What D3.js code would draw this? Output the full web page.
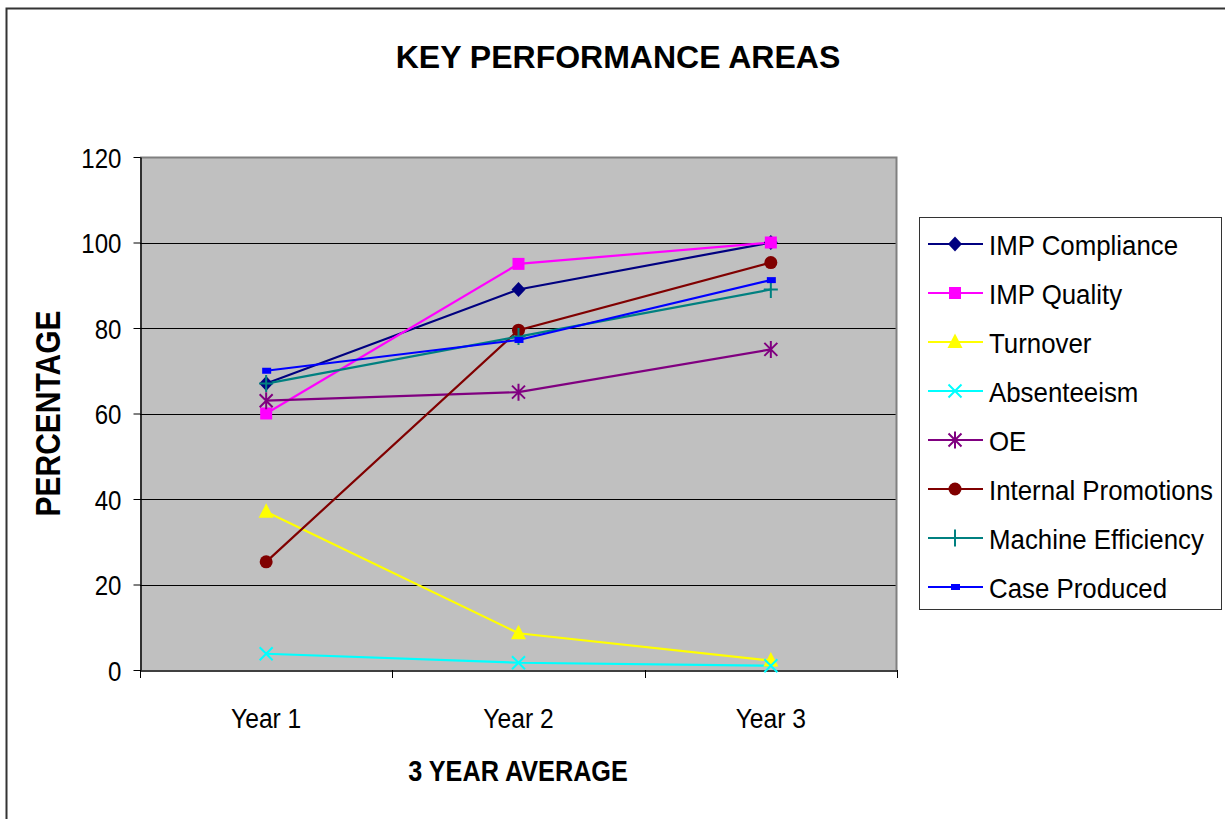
<!DOCTYPE html>
<html>
<head>
<meta charset="utf-8">
<script src="https://cdn.jsdelivr.net/npm/d3@7/dist/d3.min.js"></script>
<style>
  html, body { margin: 0; padding: 0; background: #fff; }
  svg { display: block; }
  text { font-family: "Liberation Sans", Arial, sans-serif; fill: #000; }
</style>
</head>
<body>
<svg id="chart" width="1225" height="819"></svg>
<script>
// Categories and series values (percent)
const years = ["Year 1", "Year 2", "Year 3"];
const yTicks = [0, 20, 40, 60, 80, 100, 120];

const impCompliance      = [67, 89, 100];
const impQuality         = [60, 95, 100];
const turnover           = [37, 8.6, 2.2];
const absenteeism        = [3.8, 1.7, 1];
const oe                 = [63, 65, 75];
const internalPromotions = [25.3, 79.5, 95.3];
const machineEfficiency  = [67, 78, 89];
const caseProduced       = [70, 77.2, 91.2];

const seriesNames  = ["IMP Compliance", "IMP Quality", "Turnover", "Absenteeism", "OE",
                      "Internal Promotions", "Machine Efficiency", "Case Produced"];
const seriesValues = [impCompliance, impQuality, turnover, absenteeism, oe,
                      internalPromotions, machineEfficiency, caseProduced];
const seriesColors = ["#000080", "#FF00FF", "#FFFF00", "#00FFFF", "#800080",
                      "#800000", "#008080", "#0000FF"];
const seriesMarkers = ["diamond", "square", "triangle", "x", "star", "circle", "plus", "dash"];

const svg = d3.select("#chart");

// outer frame (top and left edges visible)
svg.append("rect")
  .attr("x", 6.5).attr("y", 8.5)
  .attr("width", 1300).attr("height", 900)
  .attr("fill", "#fff").attr("stroke", "#333").attr("stroke-width", 2);

const plot = { left: 140, right: 897, top: 157, bottom: 670 };

const x = d3.scaleBand().domain(years).range([plot.left, plot.right]);
const y = d3.scaleLinear().domain([0, 120]).range([plot.bottom, plot.top]);
const cx = d => x(d) + x.bandwidth() / 2;

// plot background
svg.append("rect")
  .attr("x", plot.left).attr("y", plot.top)
  .attr("width", plot.right - plot.left).attr("height", plot.bottom - plot.top)
  .attr("fill", "#C0C0C0");

// gridlines
svg.append("g")
  .selectAll("line")
  .data(yTicks.filter(t => t > 0 && t < 120))
  .join("line")
  .attr("x1", plot.left).attr("x2", plot.right)
  .attr("y1", d => Math.round(y(d)) + 0.5).attr("y2", d => Math.round(y(d)) + 0.5)
  .attr("stroke", "#000").attr("stroke-width", 1);

// plot frame top/right
svg.append("path")
  .attr("d", `M${plot.left},${plot.top + 0.5}H${plot.right - 0.5}V${plot.bottom}`)
  .attr("fill", "none").attr("stroke", "#808080").attr("stroke-width", 2);

// y axis
const yAxis = svg.append("g")
  .attr("transform", `translate(${plot.left + 0.5},0)`)
  .call(d3.axisLeft(y).tickValues(yTicks).tickSize(7).tickSizeOuter(0));
yAxis.select(".domain").attr("stroke", "#000").attr("stroke-width", 1.5);
yAxis.selectAll(".tick line").attr("stroke", "#000");
yAxis.selectAll(".tick text")
  .attr("font-size", 28)
  .attr("font-family", "Liberation Sans, Arial, sans-serif")
  .attr("fill", "#000")
  .attr("x", -19 / 0.86)
  .attr("dy", "0.36em")
  .attr("transform", "scale(0.86,1)");

// x axis
const xAxis = svg.append("g")
  .attr("transform", `translate(0,${plot.bottom + 0.5})`)
  .call(d3.axisBottom(x).tickSize(0).tickSizeOuter(0));
xAxis.select(".domain").attr("stroke", "#000").attr("stroke-width", 1.5);
xAxis.selectAll(".tick text")
  .attr("font-size", 28)
  .attr("font-family", "Liberation Sans, Arial, sans-serif")
  .attr("fill", "#000")
  .attr("dy", 0)
  .attr("y", 58)
  .attr("x", 0)
  .attr("transform", "scale(0.88,1)");
// category boundary ticks
svg.append("g")
  .selectAll("line")
  .data(years.map(d => x(d)).concat([plot.right]))
  .join("line")
  .attr("x1", d => Math.round(d) + 0.5).attr("x2", d => Math.round(d) + 0.5)
  .attr("y1", plot.bottom).attr("y2", plot.bottom + 8)
  .attr("stroke", "#000");

// series lines
const line = d3.line().x((v, i) => cx(years[i])).y(v => y(v));
seriesValues.forEach((vals, s) => {
  svg.append("path")
    .attr("d", line(vals))
    .attr("fill", "none")
    .attr("stroke", seriesColors[s])
    .attr("stroke-width", 2.2);
});

// marker drawing
function drawMarker(g, type, color, px, py) {
  const m = g.append("g").attr("transform", `translate(${px},${py})`);
  switch (type) {
    case "diamond":
      m.append("path").attr("d", "M0,-7.5L7,0L0,7.5L-7,0Z").attr("fill", color);
      break;
    case "square":
      m.append("rect").attr("x", -6).attr("y", -6).attr("width", 12).attr("height", 12).attr("fill", color);
      break;
    case "triangle":
      m.append("path").attr("d", "M0,-8.5L7.5,6L-7.5,6Z").attr("fill", color);
      break;
    case "x":
      m.append("path").attr("d", "M-6.5,-6.5L6.5,6.5M-6.5,6.5L6.5,-6.5").attr("stroke", color).attr("stroke-width", 2);
      break;
    case "star":
      m.append("path").attr("d", "M-6.5,-6.5L6.5,6.5M-6.5,6.5L6.5,-6.5M0,-8.5L0,8.5").attr("stroke", color).attr("stroke-width", 2);
      break;
    case "circle":
      m.append("circle").attr("r", 6.5).attr("fill", color);
      break;
    case "plus":
      m.append("path").attr("d", "M-7,0L7,0M0,-8.5L0,8.5").attr("stroke", color).attr("stroke-width", 2);
      break;
    case "dash":
      m.append("rect").attr("x", -4).attr("y", -3).attr("width", 9).attr("height", 6).attr("fill", color);
      break;
  }
}

const markers = svg.append("g");
seriesValues.forEach((vals, s) => {
  vals.forEach((v, i) => drawMarker(markers, seriesMarkers[s], seriesColors[s], cx(years[i]), y(v)));
});

// title
svg.append("text")
  .attr("x", 618).attr("y", 68)
  .attr("text-anchor", "middle")
  .attr("font-size", 32).attr("font-weight", "bold")
  .text("KEY PERFORMANCE AREAS");

// x axis title
svg.append("text")
  .attr("transform", "translate(518,781) scale(0.87,1)")
  .attr("text-anchor", "middle")
  .attr("font-size", 29).attr("font-weight", "bold")
  .text("3 YEAR AVERAGE");

// y axis title
svg.append("text")
  .attr("transform", `translate(60,${(plot.top + plot.bottom) / 2}) rotate(-90) scale(1,1.14)`)
  .attr("text-anchor", "middle")
  .attr("font-size", 30).attr("font-weight", "bold")
  .text("PERCENTAGE");

// legend
const legend = svg.append("g");
legend.append("rect")
  .attr("x", 919.5).attr("y", 217.5)
  .attr("width", 302).attr("height", 392)
  .attr("fill", "#fff").attr("stroke", "#333").attr("stroke-width", 1);

seriesNames.forEach((name, s) => {
  const ry = 244 + s * 49;
  legend.append("line")
    .attr("x1", 928).attr("x2", 983)
    .attr("y1", ry).attr("y2", ry)
    .attr("stroke", seriesColors[s]).attr("stroke-width", 2.2);
  drawMarker(legend, seriesMarkers[s], seriesColors[s], 955, ry);
  legend.append("text")
    .attr("transform", `translate(989,${ry + 11}) scale(0.94,1)`)
    .attr("font-size", 27.5)
    .text(name);
});
</script>
</body>
</html>
